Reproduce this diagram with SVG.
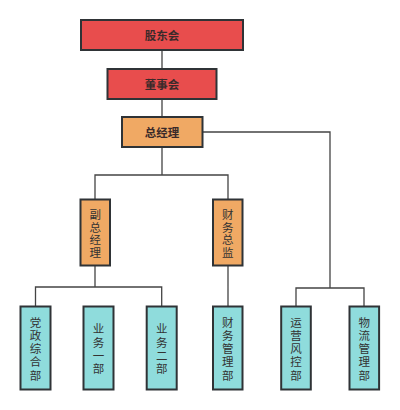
<svg xmlns="http://www.w3.org/2000/svg" width="400" height="410" viewBox="0 0 400 410">
<style>
.box{stroke:#2f3336;stroke-width:2}
.red{fill:#e84d4d}
.org{fill:#f0a964}
.cyn{fill:#8fdcdc}
.t{font-family:"Noto Sans CJK SC","Noto Sans",sans-serif;font-size:11.5px;fill:#333;text-anchor:middle;dominant-baseline:central}
.b{font-weight:bold;fill:#3a2a2a}
.ln{fill:none;stroke:#444;stroke-width:1.3}
</style>
<rect width="400" height="410" fill="#fff"/>
<g id="connectors">
<path class="ln" d="M162 50V69M162 99V117M162 147V175M95 199V175H228V199M203 132H330V288M95 266V287M35.5 306V287H161.7V306M228 266V306M296 306V288H364V306"/>
</g>
<g id="n1"><rect class="box red" x="81" y="20" width="162" height="30"/><text class="t b" x="162" y="35">股东会</text></g>
<g id="n2"><rect class="box red" x="107.5" y="69" width="109" height="30"/><text class="t b" x="162" y="84">董事会</text></g>
<g id="n3"><rect class="box org" x="122" y="117" width="80.5" height="30"/><text class="t b" x="162" y="132">总经理</text></g>
<g id="n4"><rect class="box org" x="80.5" y="199.5" width="29.5" height="66"/><text class="t" x="95.3"><tspan x="95.3" y="214">副</tspan><tspan x="95.3" y="226.7">总</tspan><tspan x="95.3" y="239.4">经</tspan><tspan x="95.3" y="252.1">理</tspan></text></g>
<g id="n5"><rect class="box org" x="213" y="199.5" width="29.5" height="66"/><text class="t" x="227.8"><tspan x="227.8" y="214">财</tspan><tspan x="227.8" y="226.7">务</tspan><tspan x="227.8" y="239.4">总</tspan><tspan x="227.8" y="252.1">监</tspan></text></g>
<g id="n6"><rect class="box cyn" x="20.5" y="306.5" width="30" height="83"/><text class="t"><tspan x="35.5" y="321.5">党</tspan><tspan x="35.5" y="334.8">政</tspan><tspan x="35.5" y="348.1">综</tspan><tspan x="35.5" y="361.4">合</tspan><tspan x="35.5" y="374.7">部</tspan></text></g>
<g id="n7"><rect class="box cyn" x="83.5" y="306.5" width="30" height="83"/><text class="t"><tspan x="98.5" y="328.2">业</tspan><tspan x="98.5" y="341.5">务</tspan><tspan x="98.5" y="354.8">一</tspan><tspan x="98.5" y="368.1">部</tspan></text></g>
<g id="n8"><rect class="box cyn" x="146.7" y="306.5" width="30" height="83"/><text class="t"><tspan x="161.7" y="328.2">业</tspan><tspan x="161.7" y="341.5">务</tspan><tspan x="161.7" y="354.8">二</tspan><tspan x="161.7" y="368.1">部</tspan></text></g>
<g id="n9"><rect class="box cyn" x="213" y="306.5" width="29.5" height="83"/><text class="t"><tspan x="227.8" y="321.5">财</tspan><tspan x="227.8" y="334.8">务</tspan><tspan x="227.8" y="348.1">管</tspan><tspan x="227.8" y="361.4">理</tspan><tspan x="227.8" y="374.7">部</tspan></text></g>
<g id="n10"><rect class="box cyn" x="281.2" y="306.5" width="29.6" height="83"/><text class="t"><tspan x="296" y="321.5">运</tspan><tspan x="296" y="334.8">营</tspan><tspan x="296" y="348.1">风</tspan><tspan x="296" y="361.4">控</tspan><tspan x="296" y="374.7">部</tspan></text></g>
<g id="n11"><rect class="box cyn" x="349.5" y="306.5" width="29.6" height="83"/><text class="t"><tspan x="364.3" y="321.5">物</tspan><tspan x="364.3" y="334.8">流</tspan><tspan x="364.3" y="348.1">管</tspan><tspan x="364.3" y="361.4">理</tspan><tspan x="364.3" y="374.7">部</tspan></text></g>
</svg>
